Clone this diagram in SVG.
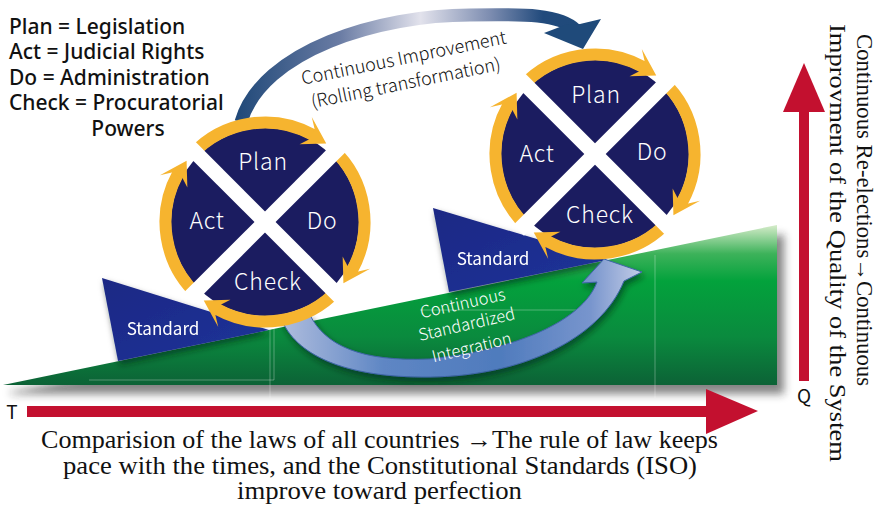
<svg xmlns="http://www.w3.org/2000/svg" width="883" height="506" viewBox="0 0 883 506">
<defs>
<style>
.key{font-family:"Noto Sans","Noto Sans CJK JP",sans-serif;font-weight:500;font-size:21px;fill:#111}
.lbl{font-family:"Noto Sans CJK JP","Noto Sans",sans-serif;font-weight:300;font-size:23px;fill:#fff;text-anchor:middle;letter-spacing:0.8px}
.std{font-family:"Noto Sans CJK JP","Noto Sans",sans-serif;font-size:17px;fill:#fff;text-anchor:middle}
.thin{font-family:"Noto Sans CJK JP","Noto Sans",sans-serif;font-weight:300;font-size:18px;fill:#111;text-anchor:middle}
.integ{font-family:"Noto Sans CJK JP","Noto Sans",sans-serif;font-weight:300;font-size:16.5px;fill:#fff;text-anchor:middle}
.axis{font-family:"Noto Sans CJK JP","Noto Sans",sans-serif;font-size:19px;fill:#111;text-anchor:middle}
.serif{font-family:"Liberation Serif","Times New Roman",serif;fill:#111}
.grid{fill:none;stroke:#fff;stroke-opacity:0.3;stroke-width:1}
.red{fill:#c3102f}
.navy{fill:#1b1c60}
.orange{fill:#f6b42f}
</style>
<linearGradient id="gGreen" x1="0" y1="225" x2="0" y2="385" gradientUnits="userSpaceOnUse">
<stop offset="0" stop-color="#d6ecca"/>
<stop offset="0.18" stop-color="#3db25a"/>
<stop offset="0.35" stop-color="#03a23c"/>
<stop offset="0.7" stop-color="#0a8a3e"/>
<stop offset="1" stop-color="#0c6236"/>
</linearGradient>
<linearGradient id="gStd" x1="0" y1="0" x2="1" y2="1">
<stop offset="0" stop-color="#1a2884"/>
<stop offset="1" stop-color="#20339a"/>
</linearGradient>
<linearGradient id="gTop" x1="235" y1="0" x2="585" y2="0" gradientUnits="userSpaceOnUse">
<stop offset="0" stop-color="#1f4878"/>
<stop offset="0.3" stop-color="#6a7ca4"/>
<stop offset="0.53" stop-color="#e2e2ec"/>
<stop offset="0.73" stop-color="#7c8cb0"/>
<stop offset="0.88" stop-color="#214a7c"/>
<stop offset="1" stop-color="#1f4a7a"/>
</linearGradient>
<linearGradient id="gInt" x1="283" y1="0" x2="645" y2="0" gradientUnits="userSpaceOnUse">
<stop offset="0" stop-color="#aebcdd"/>
<stop offset="0.28" stop-color="#5e86c4"/>
<stop offset="0.6" stop-color="#4f7bbd"/>
<stop offset="0.85" stop-color="#7895cd"/>
<stop offset="1" stop-color="#c8d0e8"/>
</linearGradient>
<filter id="blur" x="-10%" y="-50%" width="120%" height="200%"><feGaussianBlur stdDeviation="4"/></filter>
<filter id="drop" x="-20%" y="-20%" width="150%" height="160%"><feDropShadow dx="2" dy="4" stdDeviation="3" flood-color="#00240e" flood-opacity="0.55"/></filter>
<g id="arcArrow">
<path d="M 99.44,-3.47 A 99.5 99.5 0 0 1 27.42,95.65" fill="none" stroke="#f6b42f" stroke-width="12"/>
<polygon class="orange" points="12.13,98.76 41.21,107.36 30.85,100.89 27.34,89.41 30.46,79.35"/>
</g>
<g id="wheel">
<circle class="navy" r="94"/>
<use href="#arcArrow" transform="rotate(225)"/>
<use href="#arcArrow" transform="rotate(315)"/>
<use href="#arcArrow" transform="rotate(45)"/>
<use href="#arcArrow" transform="rotate(135)"/>
<rect x="-108" y="-7.5" width="216" height="15" fill="#fff" transform="rotate(45)"/>
<rect x="-108" y="-7.5" width="216" height="15" fill="#fff" transform="rotate(-45)"/>
</g>
</defs>

<rect width="883" height="506" fill="#fff"/>

<g id="ramp">
<polygon points="10,392 784,234 784,394 10,394" fill="#222" opacity="0.55" filter="url(#blur)"/>
<polygon points="3,385 777,225 777,385" fill="url(#gGreen)"/>
<path class="grid" d="M89,380 H274 V328 M270,328 V398 M655,255 V398 M420,310 H585"/>
</g>

<g id="standard-left" filter="url(#drop)">
<polygon points="102,278 269,330 118,361" fill="url(#gStd)"/>
<text class="std" x="163" y="335">Standard</text>
</g>
<g id="standard-right" filter="url(#drop)">
<polygon points="433,208 607,260 449,292" fill="url(#gStd)"/>
<text class="std" x="493" y="265">Standard</text>
</g>

<g id="connectors">
<g id="integration-arrow" filter="url(#drop)">
<path d="M 281,318 C 295,355 345,378 430,377 C 520,376 600,340 624,281 L 642,272 L 604,259 L 582,283 L 597,282 C 585,315 530,348 430,359 C 360,362 325,345 310,315 Z" fill="url(#gInt)" stroke="#3f65a8" stroke-width="1"/>
</g>
<g id="improvement-arrow">
<path d="M 241,122 C 262,50 380,15 470,15 C 525,14 560,14 576,30" fill="none" stroke="url(#gTop)" stroke-width="13"/>
<polygon points="544,33 583,49 601,19 580,24 565,25" fill="#1f4a7a"/>
</g>
</g>

<g id="integration-label">
<text class="integ" transform="translate(464,309) rotate(-12.5)">Continuous</text>
<text class="integ" transform="translate(468,330) rotate(-13)">Standardized</text>
<text class="integ" transform="translate(473,353) rotate(-13.5)">Integration</text>
</g>

<g id="pdca-left">
<use href="#wheel" transform="translate(265,222)"/>
<text class="lbl" x="263" y="170">Plan</text>
<text class="lbl" x="207" y="229">Act</text>
<text class="lbl" x="322" y="229">Do</text>
<text class="lbl" x="268" y="290">Check</text>
</g>

<g id="pdca-right">
<use href="#wheel" transform="translate(595,154)"/>
<text class="lbl" x="596" y="103">Plan</text>
<text class="lbl" x="537" y="162">Act</text>
<text class="lbl" x="652" y="160">Do</text>
<text class="lbl" x="600" y="223">Check</text>
</g>

<g id="improvement-label">
<text class="thin" transform="translate(405,64) rotate(-11.5)">Continuous Improvement</text>
<text class="thin" transform="translate(407,89) rotate(-11.5)">(Rolling transformation)</text>
</g>

<g id="legend">
<text class="key" x="9" y="34">Plan = Legislation</text>
<text class="key" x="9" y="59">Act = Judicial Rights</text>
<text class="key" x="9" y="85">Do = Administration</text>
<text class="key" x="9" y="110">Check = Procuratorial</text>
<text class="key" x="128" y="136" text-anchor="middle">Powers</text>
</g>

<g id="time-axis">
<rect class="red" x="27" y="406" width="685" height="11"/>
<polygon class="red" points="706,389 758,411 706,434"/>
<text class="axis" x="12" y="419">T</text>
</g>

<g id="quality-axis">
<rect class="red" x="799" y="105" width="10" height="276"/>
<polygon class="red" points="783,112 804,63 825,112"/>
<text class="axis" x="804" y="403">Q</text>
</g>

<g id="quality-label">
<text class="serif" font-size="22.5" textLength="352" lengthAdjust="spacingAndGlyphs" transform="translate(857,34) rotate(90)">Continuous Re-elections→Continuous</text>
<text class="serif" font-size="22.5" textLength="438" lengthAdjust="spacingAndGlyphs" transform="translate(830,24) rotate(90)">Improvment of the Quality of the System</text>
</g>

<g id="caption">
<text class="serif" font-size="25" x="41" y="448" textLength="677" lengthAdjust="spacingAndGlyphs">Comparision of the laws of all countries →The rule of law keeps</text>
<text class="serif" font-size="25" x="63" y="474" textLength="634" lengthAdjust="spacingAndGlyphs">pace with the times, and the Constitutional Standards (ISO)</text>
<text class="serif" font-size="25" x="237" y="499" textLength="285" lengthAdjust="spacingAndGlyphs">improve toward perfection</text>
</g>
</svg>
